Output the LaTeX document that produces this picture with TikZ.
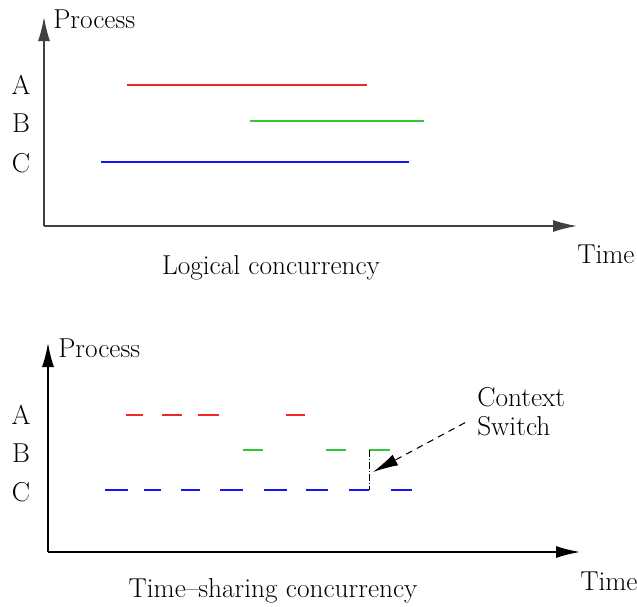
\documentclass[tikz,border=0pt]{standalone}
\usetikzlibrary{arrows.meta}
\definecolor{procA}{RGB}{240,40,40}
\definecolor{procB}{RGB}{50,200,50}
\definecolor{procC}{RGB}{20,20,250}
\tikzset{
  axis/.style={line width=1.1pt, -{Latex[length=18pt,width=9pt]}},
  run/.style={line width=0.9pt},
  lbl/.style={inner sep=0pt, font=\fontsize{20.5}{21.8}\selectfont},
}
\begin{document}
\begin{tikzpicture}[x=0.75pt, y=-0.75pt]
    \useasboundingbox (0,0) rectangle (637,607);
    % logical concurrency
    \draw[axis, black!75] (44,226) -- (44,17);
    \draw[axis, black!75] (44,226) -- (577,226);
    \node[lbl, anchor=west] (proc1) at (53,19) {Process};
    \node[lbl, anchor=north west] (time1) at (577,245) {Time};
    \node[lbl] (logical) at (271,268) {Logical concurrency};
    \node[lbl] (a1) at (21,85) {A};
    \node[lbl] (b1) at (21,123) {B};
    \node[lbl] (c1) at (21,163) {C};
    \draw[run, procA] (127,85) -- (367,85);
    \draw[run, procB] (250,121) -- (424,121);
    \draw[run, procC] (101,162) -- (409,162);
    % time-sharing concurrency
    \draw[axis] (48,552) -- (48,343);
    \draw[axis] (48,552) -- (580,552);
    \node[lbl, anchor=west] (proc2) at (58,348) {Process};
    \node[lbl, anchor=north west] (time2) at (580,572) {Time};
    \node[lbl] (sharing) at (273,591) {Time--sharing concurrency};
    \node[lbl] (a2) at (21,415) {A};
    \node[lbl] (b2) at (21,453) {B};
    \node[lbl] (c2) at (21,492) {C};
    \foreach \s/\e in {126/143, 162/182, 198/219, 286/305}
        \draw[run, procA] (\s,415) -- (\e,415);
    \foreach \s/\e in {243/263, 326/346, 369/390}
        \draw[run, procB] (\s,450) -- (\e,450);
    \foreach \s/\e in {105/128, 144/161, 181/200, 220/243, 264/287, 306/328, 349/369, 391/412}
        \draw[run, procC] (\s,490) -- (\e,490);
    \draw[line width=0.7pt, dash pattern=on 5pt off 1.5pt on 1pt off 1.5pt] (369,450) -- (369,490);
    \node[lbl, anchor=west, align=left] (ctx) at (477,412) {Context\\Switch};
    \coordinate (sw) at (373,472);
    \draw[line width=0.8pt, dash pattern=on 5pt off 4pt, -{Latex[length=19pt,width=9pt]}]
        ([xshift=-9pt,yshift=-8pt]ctx.west) -- (sw);
\end{tikzpicture}
\end{document}
